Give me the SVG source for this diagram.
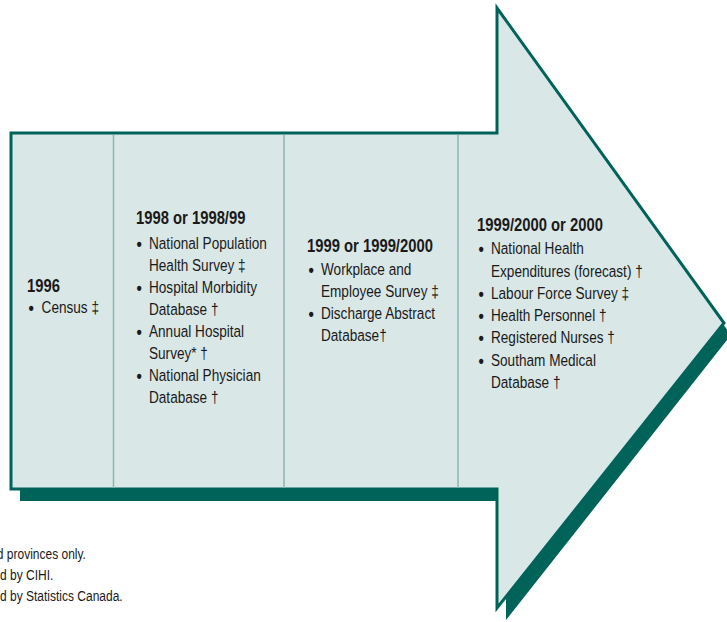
<svg xmlns="http://www.w3.org/2000/svg" width="727" height="622" viewBox="0 0 727 622">
<style>
.t{font-family:"Liberation Sans",Arial,sans-serif;fill:#1a1a1a;font-size:17px}
.h{font-weight:bold;font-size:18.5px}
.b{font-weight:bold;font-size:19px}
.f{font-size:15px}
.div{stroke:#8db6b1;stroke-width:1.5}
</style>
<rect width="727" height="622" fill="#fff"/>
<g id="arrow">
<polygon points="20,145 506,145 506,20 731,335 506,620 506,501 20,501" fill="#00635a"/>
<polygon points="11,133 497,133 497,8 724,323 497,608 497,489 11,489" fill="#d9e7e6" stroke="#00635a" stroke-width="3" stroke-linejoin="miter"/>
</g>
<g id="dividers">
<line class="div" x1="113.5" y1="135" x2="113.5" y2="488"/>
<line class="div" x1="284" y1="135" x2="284" y2="488"/>
<line class="div" x1="458" y1="135" x2="458" y2="488"/>
</g>
<g id="col-1996" transform="scale(0.8,1)">
<text class="t h" x="33.75" y="292">1996</text>
<text class="t b" x="35.5" y="314">•</text>
<text class="t" x="52" y="313">Census ‡</text>
</g>
<g id="col-1998" transform="scale(0.8,1)">
<text class="t h" x="170" y="224">1998 or 1998/99</text>
<text class="t b" x="170.5" y="250">•</text>
<text class="t" x="186.25" y="249">National Population</text>
<text class="t" x="186.25" y="271">Health Survey ‡</text>
<text class="t b" x="170.5" y="294">•</text>
<text class="t" x="186.25" y="293">Hospital Morbidity</text>
<text class="t" x="186.25" y="315">Database †</text>
<text class="t b" x="170.5" y="338">•</text>
<text class="t" x="186.25" y="337">Annual Hospital</text>
<text class="t" x="186.25" y="359">Survey* †</text>
<text class="t b" x="170.5" y="382">•</text>
<text class="t" x="186.25" y="381">National Physician</text>
<text class="t" x="186.25" y="403">Database †</text>
</g>
<g id="col-1999" transform="scale(0.8,1)">
<text class="t h" x="383.75" y="252">1999 or 1999/2000</text>
<text class="t b" x="385.5" y="276">•</text>
<text class="t" x="401.25" y="275">Workplace and</text>
<text class="t" x="401.25" y="297">Employee Survey ‡</text>
<text class="t b" x="385.5" y="320">•</text>
<text class="t" x="401.25" y="319">Discharge Abstract</text>
<text class="t" x="401.25" y="341">Database†</text>
</g>
<g id="col-2000" transform="scale(0.8,1)">
<text class="t h" x="596.25" y="231">1999/2000 or 2000</text>
<text class="t b" x="598" y="255">•</text>
<text class="t" x="613.75" y="254">National Health</text>
<text class="t" x="613.75" y="277">Expenditures (forecast) †</text>
<text class="t b" x="598" y="300">•</text>
<text class="t" x="613.75" y="299">Labour Force Survey ‡</text>
<text class="t b" x="598" y="322">•</text>
<text class="t" x="613.75" y="321">Health Personnel †</text>
<text class="t b" x="598" y="344">•</text>
<text class="t" x="613.75" y="343">Registered Nurses †</text>
<text class="t b" x="598" y="367">•</text>
<text class="t" x="613.75" y="366">Southam Medical</text>
<text class="t" x="613.75" y="388">Database †</text>
</g>
<g id="footnotes" transform="scale(0.8,1)">
<text class="t f" x="-4" y="559">d provinces only.</text>
<text class="t f" x="0" y="580">d by CIHI.</text>
<text class="t f" x="0" y="601">d by Statistics Canada.</text>
</g>
</svg>
